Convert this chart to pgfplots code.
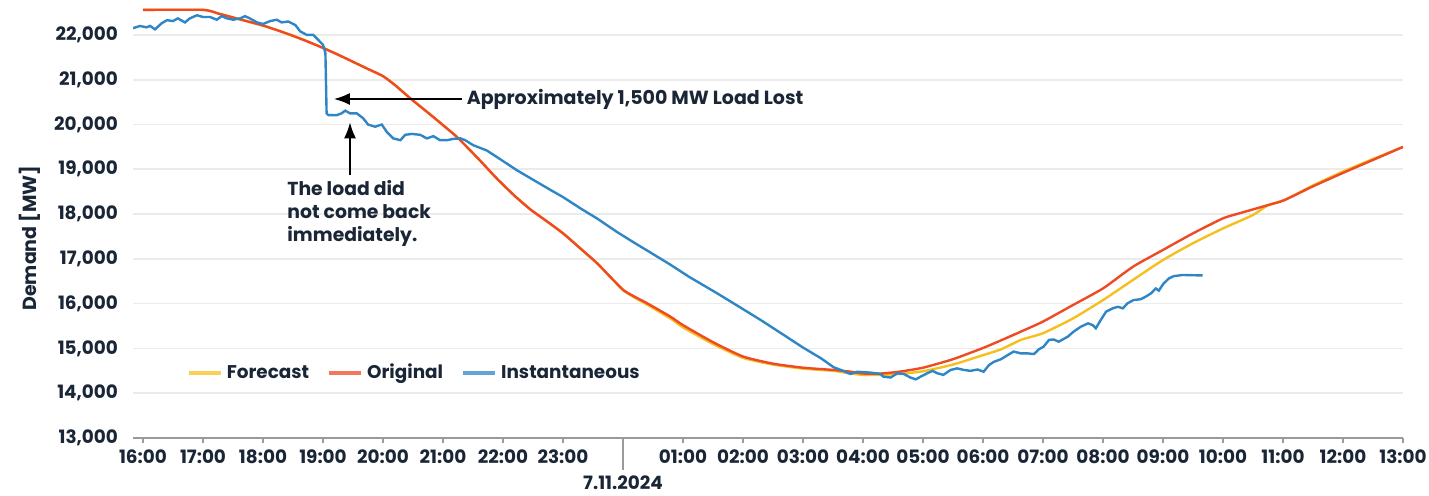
\documentclass[border=0pt]{standalone}
\usepackage{pgfplots}
\pgfplotsset{compat=1.18}
\usepackage{fontspec}
\setmainfont{Poppins}
\usetikzlibrary{arrows.meta}
\definecolor{txt}{HTML}{1A2636}
\definecolor{cred}{HTML}{EE4B24}
\definecolor{cyel}{HTML}{F5C01E}
\definecolor{cblu}{HTML}{2F86C6}
\definecolor{gridc}{HTML}{EBEBEB}
\definecolor{axc}{HTML}{9A9A9A}

\pgfplotstableread{
h v
16.0 22560
17.0 22560
17.25 22480
17.5 22390
17.75 22300
18.0 22210
18.25 22100
18.5 21980
18.75 21850
19.0 21710
19.25 21560
19.5 21400
19.75 21240
20.0 21080
20.2 20880
20.45 20590
20.79 20220
21.05 19930
21.25 19700
21.6 19220
21.9 18790
22.2 18400
22.46 18100
22.75 17820
23.01 17560
23.3 17220
23.57 16900
23.8 16580
24.01 16300
24.2 16150
24.4 16010
24.79 15710
25.0 15520
25.5 15140
26.0 14820
26.5 14660
27.0 14570
27.5 14520
27.8 14480
28.0 14440
28.3 14440
28.6 14480
29.0 14570
29.5 14760
30.0 15010
30.3 15180
30.63 15375
31.0 15600
31.5 15970
32.0 16340
32.5 16825
33.0 17200
33.5 17570
34.0 17905
34.28 18020
34.75 18200
35.02 18310
35.5 18620
36.0 18920
36.5 19210
37.0 19500
}\original

\pgfplotstableread{
h v
16.0 22560
17.0 22560
17.25 22480
17.5 22390
17.75 22300
18.0 22210
18.25 22100
18.5 21980
18.75 21850
19.0 21710
19.25 21560
19.5 21400
19.75 21240
20.0 21080
20.2 20880
20.45 20590
20.79 20220
21.05 19930
21.25 19700
21.6 19220
21.9 18790
22.2 18400
22.46 18100
22.75 17820
23.01 17560
23.3 17220
23.57 16900
23.8 16580
24.01 16290
24.2 16130
24.4 15980
24.79 15670
25.0 15470
25.5 15100
26.0 14790
26.5 14640
27.0 14550
27.5 14500
27.8 14440
28.0 14410
28.3 14410
28.6 14430
29.0 14490
29.5 14640
30.0 14850
30.3 14980
30.63 15190
31.0 15340
31.5 15670
32.0 16080
32.5 16530
33.0 16975
33.5 17350
34.0 17680
34.5 17980
34.75 18200
35.02 18310
35.5 18640
36.0 18950
36.5 19230
37.0 19500
}\forecast

\pgfplotstableread{
h v
15.83 22150
15.95 22200
16.06 22170
16.12 22200
16.20 22125
16.31 22260
16.40 22330
16.50 22310
16.58 22370
16.70 22280
16.78 22370
16.90 22440
17.00 22400
17.12 22400
17.23 22340
17.31 22420
17.40 22370
17.50 22340
17.62 22370
17.70 22420
17.78 22370
17.90 22280
18.00 22245
18.12 22310
18.23 22340
18.31 22280
18.42 22300
18.54 22220
18.62 22080
18.73 22000
18.84 22000
18.92 21890
19.00 21780
19.04 21600
19.06 20250
19.09 20210
19.23 20210
19.31 20250
19.37 20310
19.45 20250
19.56 20250
19.67 20140
19.75 20000
19.87 19950
19.98 20000
20.06 19840
20.17 19690
20.29 19650
20.37 19770
20.48 19790
20.62 19770
20.73 19690
20.84 19740
20.95 19650
21.07 19650
21.17 19680
21.29 19690
21.37 19650
21.50 19540
21.73 19420
21.96 19220
22.23 18980
22.51 18760
22.79 18540
23.0 18380
23.3 18120
23.57 17900
23.9 17600
24.2 17350
24.46 17140
24.79 16870
25.1 16600
25.57 16230
25.9 15960
26.3 15630
26.68 15300
27.0 15020
27.3 14780
27.51 14580
27.63 14520
27.79 14430
27.90 14480
28.13 14460
28.29 14430
28.34 14370
28.46 14350
28.57 14445
28.68 14430
28.79 14350
28.88 14310
28.96 14370
29.07 14445
29.16 14500
29.24 14445
29.34 14410
29.46 14520
29.57 14555
29.68 14520
29.79 14500
29.91 14530
30.01 14480
30.10 14630
30.18 14700
30.30 14760
30.41 14850
30.51 14930
30.63 14890
30.74 14890
30.85 14875
30.93 14980
31.01 15040
31.10 15190
31.18 15200
31.26 15150
31.41 15260
31.51 15375
31.63 15485
31.75 15560
31.83 15520
31.88 15450
31.96 15630
32.05 15820
32.16 15895
32.25 15930
32.33 15895
32.41 16010
32.51 16080
32.63 16100
32.71 16155
32.80 16230
32.88 16340
32.93 16290
33.01 16450
33.10 16565
33.18 16615
33.33 16640
33.66 16630
}\instant

\begin{document}
\begin{tikzpicture}[font=\fontsize{9.2}{11}\selectfont\bfseries, text=txt]
\useasboundingbox (-66.5pt,-28.5pt) rectangle (648pt,219pt);
\begin{axis}[
  scale only axis, width=635pt, height=219pt,
  xmin=15.8333, xmax=37, ymin=13000, ymax=22780,
  axis x line*=bottom, axis y line*=left,
  y axis line style={draw=none},
  x axis line style={draw=axc, line width=0.8pt, -},
  xtick={16,...,37},
  xticklabels={16:00,17:00,18:00,19:00,20:00,21:00,22:00,23:00,{},01:00,02:00,03:00,04:00,05:00,06:00,07:00,08:00,09:00,10:00,11:00,12:00,13:00},
  tick align=outside, major tick length=2.5pt,
  xtick style={draw=axc, line width=0.6pt},
  ytick={13000,14000,...,22000},
  ytick style={draw=none},
  ymajorgrids, grid style={draw=gridc, line width=0.8pt},
  scaled y ticks=false,
  /pgf/number format/.cd, 1000 sep={,}, assume math mode=true,
  /pgfplots/.cd,
  tick label style={font=\fontsize{9.2}{11}\selectfont\bfseries, text=txt},
  yticklabel style={xshift=-1.5pt},
  legend columns=3,
  legend style={at={(axis cs:16.73,14450)}, anchor=west, draw=none, fill=none,
    inner sep=0pt, outer sep=0pt, font=\fontsize{9.2}{11}\selectfont\bfseries, text=txt,
    /tikz/every even column/.append style={column sep=7pt}},
  legend image code/.code={\draw[#1, line width=2pt, opacity=0.75] (0pt,0pt) -- (16pt,0pt);},
]
\addplot[cyel, line width=1.2pt, mark=none, smooth, tension=0.35] table[x=h, y=v] {\forecast};
\addlegendentry{Forecast}
\addplot[cred, line width=1.2pt, mark=none, smooth, tension=0.35] table[x=h, y=v] {\original};
\addlegendentry{Original}
\addplot[cblu, line width=1.2pt, mark=none] table[x=h, y=v] {\instant};
\addlegendentry{Instantaneous}

\draw[-{Latex[length=8pt,width=6pt]}, line width=1pt, black] (axis cs:21.32,20570) -- (axis cs:19.18,20570);
\node[anchor=west, inner sep=0pt, text=txt, font=\fontsize{9.5}{11}\selectfont\bfseries] at (axis cs:21.39,20570) {Approximately 1,500 MW Load Lost};
\draw[-{Latex[length=8pt,width=6pt]}, line width=1pt, black] (axis cs:19.45,18870) -- (axis cs:19.45,20050);
\node[anchor=north west, align=left, inner sep=0pt, text=txt, font=\fontsize{9.4}{11.5}\selectfont\bfseries] at (axis cs:18.40,18760) {The load did\\not come back\\immediately.};
\coordinate (mid) at (axis cs:24,13000);
\end{axis}
\draw[axc, line width=0.8pt] (mid) -- ++(0pt,-16pt);
\node[anchor=center] at ([yshift=-22.5pt]mid) {7.11.2024};
\node[rotate=90, anchor=center, font=\fontsize{9.5}{11}\selectfont\bfseries] at (-51.5pt,100pt) {Demand [MW]};
\end{tikzpicture}
\end{document}
